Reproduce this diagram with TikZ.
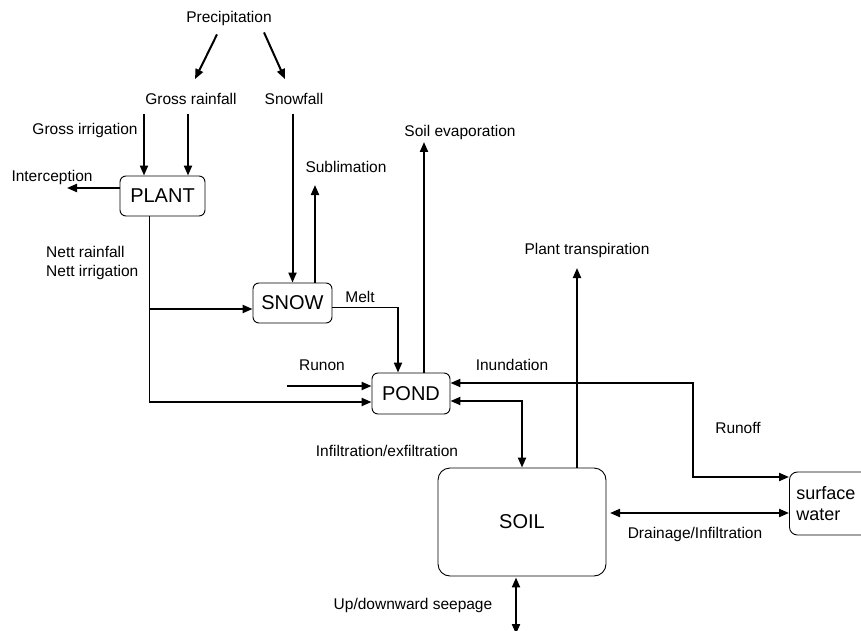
\documentclass[tikz,border=0pt]{standalone}
\usepackage{fontspec}
\setmainfont{Liberation Sans}
\usetikzlibrary{arrows.meta}

\tikzset{
  lbl/.style={inner sep=1pt, font=\fontsize{15.5}{19}\selectfont},
  box/.style={draw, line width=0.9pt, rounded corners=6pt, inner sep=0pt,
    font=\fontsize{20}{24}\selectfont},
  flow/.style={line width=2pt},
  thinflow/.style={line width=1pt},
  >={Triangle[length=10pt,width=8pt]}
}

\begin{document}
\begin{tikzpicture}[x=1pt,y=-1pt]
\useasboundingbox (0,0) rectangle (861,631);

% labels
\node[lbl] (prec) at (229,18) {Precipitation};
\node[lbl] (grain) at (191,99) {Gross rainfall};
\node[lbl] (sfall) at (294,99) {Snowfall};
\node[lbl] (girr) at (85,130) {Gross irrigation};
\node[lbl] (icpt) at (52,177) {Interception};
\node[lbl] (subl) at (346,167) {Sublimation};
\node[lbl] (sevap) at (460,132) {Soil evaporation};
\node[lbl] (ptrans) at (587,250) {Plant transpiration};
\node[lbl, align=left, anchor=west] (nett) at (45,262.5) {Nett rainfall\\Nett irrigation};
\node[lbl] (melt) at (360,297) {Melt};
\node[lbl] (runon) at (322,365) {Runon};
\node[lbl] (inund) at (512,365) {Inundation};
\node[lbl] (runoff) at (738,428) {Runoff};
\node[lbl] (infil) at (387,451) {Infiltration/exfiltration};
\node[lbl] (drain) at (695,534) {Drainage/Infiltration};
\node[lbl] (seep) at (413,605) {Up/downward seepage};

% stores
\node[box, minimum width=85, minimum height=40] (plant) at (162.5,196) {PLANT};
\node[box, minimum width=79, minimum height=40] (snow) at (292.5,303) {SNOW};
\node[box, minimum width=78, minimum height=41] (pond) at (411,393.5) {POND};
\node[box, rounded corners=12pt, minimum width=168, minimum height=108] (soil) at (522,522) {SOIL};
\node[box, rounded corners=8pt, align=left, anchor=west, text width=80pt, inner sep=7pt,
  minimum height=63, font=\fontsize{18}{21}\selectfont] (surf) at (789,503.5) {surface\\water};

% free ends and bends
\coordinate (gi) at (144,114);
\coordinate (gr) at (188,114);
\coordinate (ic) at (67,188);
\coordinate (sb) at (315,185);
\coordinate (nt) at (149,402);
\coordinate (ns) at (149,309);
\coordinate (ml) at (398,307);
\coordinate (rn) at (287,386);
\coordinate (se) at (424,142);
\coordinate (tr) at (577,268);
\coordinate (ro) at (693,383);
\coordinate (ro2) at (693,477);
\coordinate (if) at (522,401);
\coordinate (dr) at (610,513);
\coordinate (sp) at (516,634);

% precipitation split
\draw[flow,->] ([shift={(-12,8)}]prec.south) -- ([shift={(4,-13)}]grain.north);
\draw[flow,->] ([shift={(35,6)}]prec.south) -- ([shift={(-9,-13)}]sfall.north);

% plant
\draw[flow,->] (gi) -- (gi |- plant.north);
\draw[flow,->] (gr) -- (gr |- plant.north);
\draw[flow,->] (plant.west |- ic) -- (ic);
\draw[thinflow] (nt |- plant.south) -- (nt);
\draw[flow,->] (ns) -- (snow.west |- ns);
\draw[flow,->] (nt) -- (pond.west |- nt);

% snow
\draw[flow,->] (snow.north |- gr) -- (snow.north);
\draw[flow,->] (sb |- snow.north) -- (sb);
\draw[thinflow] (snow.east |- ml) -- (ml);
\draw[flow,->] (ml) -- (ml |- pond.north);

% pond
\draw[flow,->] (rn) -- (pond.west |- rn);
\draw[flow,->] (se |- pond.north) -- (se);
\draw[flow,<->] (pond.east |- ro) -- (ro) -- (ro2) -- (surf.west |- ro2);
\draw[flow,<->] (pond.east |- if) -- (if) -- (if |- soil.north);

% soil
\draw[flow,->] (tr |- soil.north) -- (tr);
\draw[flow,<->] (dr) -- (surf.west |- dr);
\draw[flow,<->] ([yshift=-1pt]sp |- soil.south) -- (sp);
\end{tikzpicture}
\end{document}
